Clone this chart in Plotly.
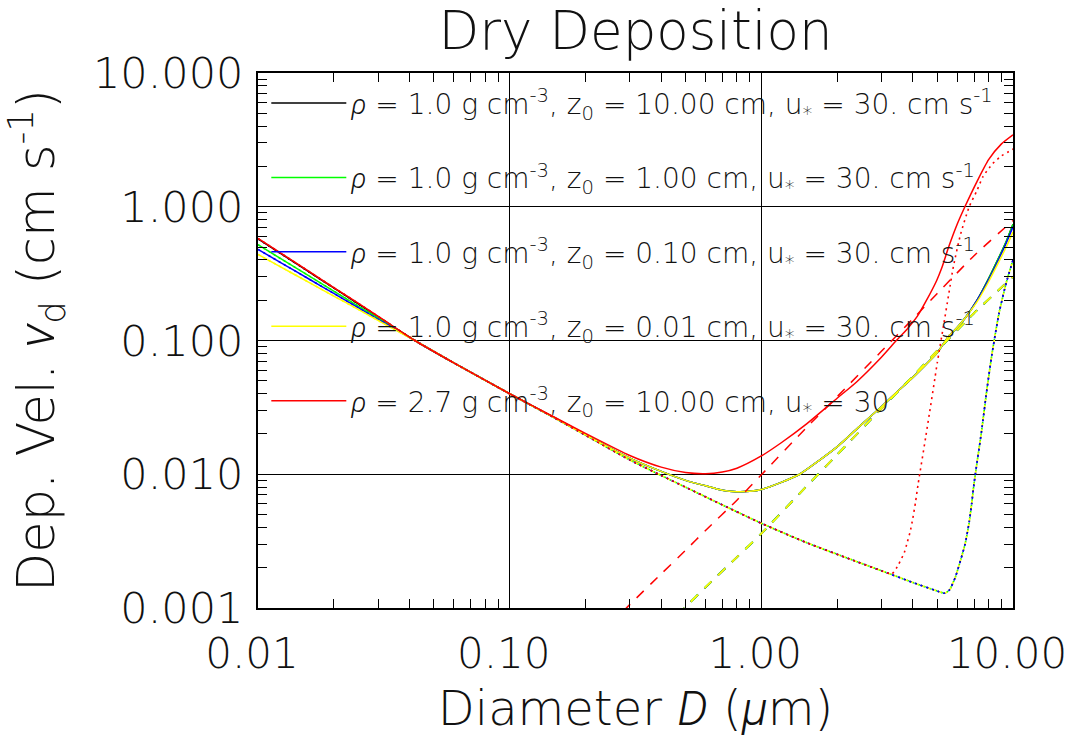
import plotly.graph_objects as go

# ---------------- data ----------------
# left-hand part of every curve (Brownian regime, differs per case)
D_LEFT = [0.01, 0.0125, 0.016, 0.02, 0.025, 0.032]
V_LEFT_BLACK = [0.575, 0.438, 0.324, 0.247, 0.188, 0.139]
V_LEFT_GREEN = [0.52, 0.402, 0.303, 0.234, 0.181, 0.137]
V_LEFT_BLUE = [0.48, 0.376, 0.287, 0.225, 0.176, 0.134]
V_LEFT_YELLOW = [0.44, 0.349, 0.271, 0.215, 0.171, 0.132]
V_LEFT_RED = [0.58, 0.442, 0.327, 0.249, 0.190, 0.140]

# dotted component: shared middle part
D_DOT_MID = [0.042, 0.06, 0.1, 0.15, 0.2, 0.3, 0.4, 0.5, 0.7, 1.0, 1.5, 2.25, 3.0]
V_DOT_MID = [0.100, 0.068, 0.040, 0.0265, 0.0196, 0.0128, 0.0098, 0.0080, 0.0059,
             0.0043, 0.0031, 0.00232, 0.0019]
# dotted component: right-hand tails
D_DOT_TAIL_RHO1 = [4.0, 5.0, 5.36, 5.6, 5.9, 6.2, 6.45, 6.7, 6.85, 7.0, 7.5, 7.9,
                   8.3, 8.8, 9.4, 10.0]
V_DOT_TAIL_RHO1 = [0.00155, 0.00134, 0.00129, 0.00137, 0.0017, 0.0023, 0.0030,
                   0.0044, 0.0060, 0.0085, 0.021, 0.045, 0.085, 0.16, 0.27, 0.40]
D_DOT_TAIL_RED = [3.3, 3.5, 3.7, 3.8, 3.9, 4.0, 4.1, 4.2, 4.5, 4.9, 5.0, 5.3, 5.55,
                  5.8, 6.2, 6.7, 7.2, 7.6, 8.3, 9.0, 9.6, 10.0]
V_DOT_TAIL_RED = [0.0018, 0.0021, 0.0026, 0.0031, 0.0037, 0.0047, 0.0062, 0.0085,
                  0.019, 0.053, 0.068, 0.13, 0.22, 0.36, 0.63, 1.0, 1.33, 1.68, 2.1,
                  2.4, 2.58, 2.7]

# total deposition velocity (solid), rho = 1.0 cases: shared core
D_TOT_RHO1 = [0.042, 0.06, 0.1, 0.15, 0.2, 0.3, 0.4, 0.5, 0.6, 0.7, 0.8, 0.9, 1.0,
              1.2, 1.42, 1.7, 2.0, 2.5, 3.0, 3.5, 4.0, 4.5, 5.0, 5.56, 6.0, 6.5]
V_TOT_RHO1 = [0.100, 0.068, 0.040, 0.0266, 0.0198, 0.0132, 0.0105, 0.0090, 0.0082,
              0.0076, 0.0074, 0.00745, 0.0077, 0.0087, 0.0100, 0.0127, 0.0160,
              0.0235, 0.032, 0.042, 0.053, 0.066, 0.081, 0.108, 0.125, 0.150]
# right-hand tails of the solid rho = 1.0 curves
D_TOT_TAIL = [7.2, 8.0, 8.8, 9.4, 10.0]
V_TOT_TAIL_BLACK = [0.20, 0.29, 0.42, 0.55, 0.74]
V_TOT_TAIL_GREEN = [0.20, 0.29, 0.42, 0.55, 0.74]
V_TOT_TAIL_BLUE = [0.20, 0.285, 0.41, 0.535, 0.71]
V_TOT_TAIL_YELLOW = [0.195, 0.275, 0.39, 0.50, 0.65]

# total deposition velocity (solid), rho = 2.7 case
D_TOT_RED = [0.042, 0.06, 0.1, 0.15, 0.2, 0.3, 0.4, 0.5, 0.6, 0.7, 0.8, 1.0, 1.2,
             1.5, 2.0, 2.39, 3.0, 3.44, 3.8, 4.17, 4.5, 4.97, 5.2, 5.55, 6.0, 6.44,
             7.2, 8.0, 9.0, 10.0]
V_TOT_RED = [0.100, 0.068, 0.040, 0.0268, 0.0202, 0.0138, 0.0113, 0.0103, 0.0101,
             0.0104, 0.0111, 0.0137, 0.0172, 0.0235, 0.037, 0.049, 0.075, 0.100,
             0.122, 0.152, 0.195, 0.28, 0.345, 0.50, 0.74, 1.0, 1.55, 2.25, 2.95, 3.45]

# gravitational settling (dashed)
D_SETTLE = [0.25, 0.3, 0.4, 0.5, 0.6, 0.8, 1.0, 1.5, 2.0, 3.0, 4.0, 5.0, 7.0, 10.0]
V_SETTLE_RHO1 = [0.00028, 0.00039, 0.00067, 0.00102, 0.00143, 0.0024, 0.0036,
                 0.0080, 0.0140, 0.031, 0.054, 0.084, 0.16, 0.30]
V_SETTLE_RED = [0.00075, 0.00106, 0.0018, 0.0027, 0.0038, 0.0064, 0.0099, 0.022,
                0.038, 0.083, 0.145, 0.225, 0.43, 0.79]


def ital(s):
    """Thin italic glyph (the upright font has no light italic face)."""
    return ("<span style=\"font-family:'Roboto';font-style:italic;"
            "font-weight:300\">" + s + "</span>")


RHO = ital("ρ")
LEGEND_TEXT = [
    RHO + " = 1.0 g cm<sup>-3</sup>, z<sub>0</sub> = 10.00 cm, u<sub>*</sub> = 30. cm s<sup>-1</sup>",
    RHO + " = 1.0 g cm<sup>-3</sup>, z<sub>0</sub> = 1.00 cm, u<sub>*</sub> = 30. cm s<sup>-1</sup>",
    RHO + " = 1.0 g cm<sup>-3</sup>, z<sub>0</sub> = 0.10 cm, u<sub>*</sub> = 30. cm s<sup>-1</sup>",
    RHO + " = 1.0 g cm<sup>-3</sup>, z<sub>0</sub> = 0.01 cm, u<sub>*</sub> = 30. cm s<sup>-1</sup>",
    RHO + " = 2.7 g cm<sup>-3</sup>, z<sub>0</sub> = 10.00 cm, u<sub>*</sub> = 30",
]
COLORS = ["#000000", "#00ff00", "#0000ff", "#ffff00", "#ff0000"]

# ---------------- assemble series ----------------
cases = [
    dict(tot_x=D_LEFT + D_TOT_RHO1 + D_TOT_TAIL,
         tot_y=V_LEFT_BLACK + V_TOT_RHO1 + V_TOT_TAIL_BLACK,
         dot_x=D_LEFT + D_DOT_MID + D_DOT_TAIL_RHO1,
         dot_y=V_LEFT_BLACK + V_DOT_MID + V_DOT_TAIL_RHO1,
         vs=V_SETTLE_RHO1, dw=1.5),
    dict(tot_x=D_LEFT + D_TOT_RHO1 + D_TOT_TAIL,
         tot_y=V_LEFT_GREEN + V_TOT_RHO1 + V_TOT_TAIL_GREEN,
         dot_x=D_LEFT + D_DOT_MID + D_DOT_TAIL_RHO1,
         dot_y=V_LEFT_GREEN + V_DOT_MID + V_DOT_TAIL_RHO1,
         vs=V_SETTLE_RHO1, dw=2.1),
    dict(tot_x=D_LEFT + D_TOT_RHO1 + D_TOT_TAIL,
         tot_y=V_LEFT_BLUE + V_TOT_RHO1 + V_TOT_TAIL_BLUE,
         dot_x=D_LEFT + D_DOT_MID + D_DOT_TAIL_RHO1,
         dot_y=V_LEFT_BLUE + V_DOT_MID + V_DOT_TAIL_RHO1,
         vs=V_SETTLE_RHO1, dw=1.5),
    dict(tot_x=D_LEFT + D_TOT_RHO1 + D_TOT_TAIL,
         tot_y=V_LEFT_YELLOW + V_TOT_RHO1 + V_TOT_TAIL_YELLOW,
         dot_x=D_LEFT + D_DOT_MID + D_DOT_TAIL_RHO1,
         dot_y=V_LEFT_YELLOW + V_DOT_MID + V_DOT_TAIL_RHO1,
         vs=V_SETTLE_RHO1, dw=1.8),
    dict(tot_x=D_LEFT + D_TOT_RED,
         tot_y=V_LEFT_RED + V_TOT_RED,
         dot_x=D_LEFT + D_DOT_MID + D_DOT_TAIL_RED,
         dot_y=V_LEFT_RED + V_DOT_MID + V_DOT_TAIL_RED,
         vs=V_SETTLE_RED, dw=1.5),
]

FONT = "DejaVu Sans"
W = 200          # thin stroke, closer to the Hershey vector font
TXT = "#111111"

fig = go.Figure()
for i, c in enumerate(cases):
    col = COLORS[i]
    fig.add_trace(go.Scatter(
        x=c["tot_x"], y=c["tot_y"], mode="lines", name=LEGEND_TEXT[i],
        legendgroup=f"g{i}", showlegend=True,
        line=dict(color=col, width=1.5, shape="spline", smoothing=0.6)))
    fig.add_trace(go.Scatter(
        x=c["dot_x"], y=c["dot_y"], mode="lines", legendgroup=f"g{i}",
        showlegend=False,
        line=dict(color=col, width=1.6, dash="2px,4px", shape="spline", smoothing=0.6)))
    fig.add_trace(go.Scatter(
        x=D_SETTLE, y=c["vs"], mode="lines", legendgroup=f"g{i}",
        showlegend=False,
        line=dict(color=col, width=c["dw"], dash="10px,9px", shape="spline", smoothing=0.6)))

axis_common = dict(
    type="log", showgrid=True, gridcolor="black", gridwidth=1.3,
    showline=True, linecolor="black", linewidth=2, mirror="allticks",
    ticks="inside", ticklen=1, tickcolor="black", dtick=1, automargin=False,
    minor=dict(ticks="inside", ticklen=9, tickcolor="black", tickwidth=1.2,
               showgrid=False),
)

fig.update_xaxes(
    **axis_common, range=[-2, 1], tickformat=".2f", ticklabelstandoff=8,
    ticklabelshift=-6,
    tickfont=dict(family=FONT, size=42, color=TXT, weight=W),
    title=dict(text="Diameter " + ital("D") + " (" + ital("μ") + "m)", standoff=16,
               font=dict(family=FONT, size=48, color=TXT, weight=W)))
fig.update_yaxes(
    **axis_common, range=[-3, 1], tickformat=".3f", ticklabelstandoff=4,
    tickfont=dict(family=FONT, size=43, color=TXT, weight=W),
    title=dict(text="Dep. Vel. " + ital("v") + "<sub>d</sub> (cm s<sup>-1</sup>)",
               standoff=22, font=dict(family=FONT, size=51, color=TXT, weight=W)))

fig.update_layout(
    width=1075, height=737,
    margin=dict(l=258, r=62, t=73, b=129),
    plot_bgcolor="white", paper_bgcolor="white",
    font=dict(family=FONT, color=TXT, weight=W),
    title=dict(text="Dry Deposition", x=0.5, xref="paper", xanchor="center",
               y=1 - 30 / 737, yref="container", yanchor="middle",
               font=dict(family=FONT, size=53, color=TXT, weight=W)),
    legend=dict(x=0.011, y=0.99, xanchor="left", yanchor="top",
                bgcolor="rgba(0,0,0,0)", borderwidth=0,
                font=dict(family=FONT, size=28, color=TXT, weight=W),
                tracegroupgap=35, itemwidth=75),
    showlegend=True,
)

fig.write_html("out.html", config={"displayModeBar": False},
               post_script="document.body.style.margin='0px';")
